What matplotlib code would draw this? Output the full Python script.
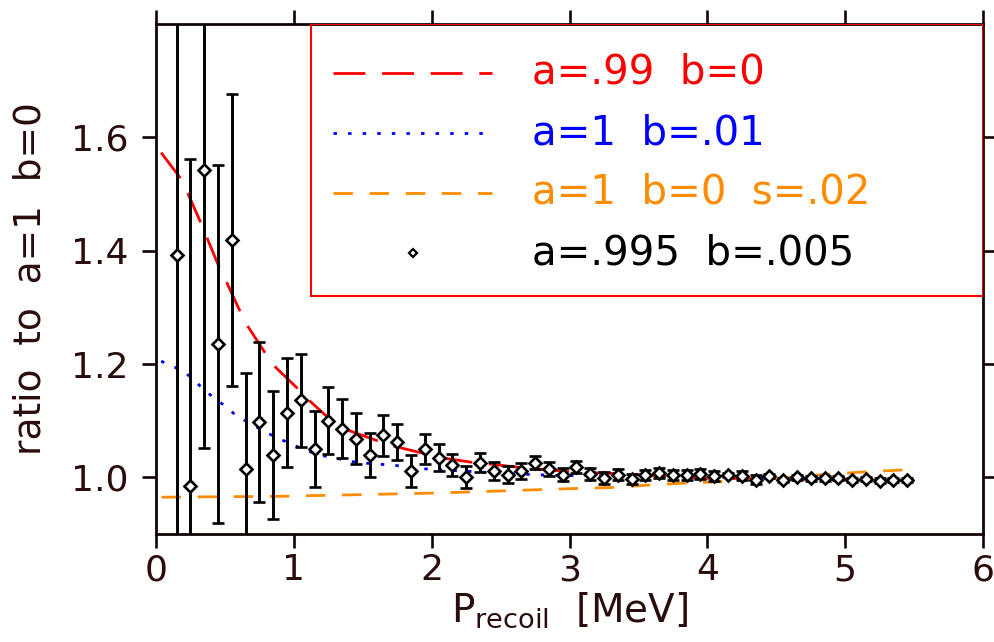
import matplotlib
matplotlib.use("Agg")
import matplotlib.pyplot as plt
from matplotlib.patches import Rectangle
from matplotlib.lines import Line2D

plt.rcParams["lines.scale_dashes"] = False

INK = "#2a0c0c"

# simulated ratio a=.995 b=.005, one point per 0.1 MeV bin
p_recoil = [0.15, 0.25, 0.35, 0.45, 0.55, 0.65, 0.75, 0.85, 0.95, 1.05,
            1.15, 1.25, 1.35, 1.45, 1.55, 1.65, 1.75, 1.85, 1.95, 2.05,
            2.15, 2.25, 2.35, 2.45, 2.55, 2.65, 2.75, 2.85, 2.95, 3.05,
            3.15, 3.25, 3.35, 3.45, 3.55, 3.65, 3.75, 3.85, 3.95, 4.05,
            4.15, 4.25, 4.35, 4.45, 4.55, 4.65, 4.75, 4.85, 4.95, 5.05,
            5.15, 5.25, 5.35, 5.45]
ratio = [1.393, 0.984, 1.542, 1.235, 1.419, 1.015, 1.097, 1.040, 1.114, 1.136,
         1.050, 1.100, 1.086, 1.068, 1.040, 1.074, 1.063, 1.011, 1.050, 1.035,
         1.022, 1.001, 1.026, 1.011, 1.005, 1.011, 1.026, 1.015, 1.005, 1.018,
         1.006, 0.999, 1.005, 0.997, 1.004, 1.008, 1.004, 1.004, 1.006, 1.002,
         1.004, 1.003, 0.996, 1.002, 0.995, 1.000, 0.998, 0.998, 0.999, 0.995,
         0.997, 0.994, 0.995, 0.995]
ratio_err = [0.600, 0.578, 0.490, 0.316, 0.258, 0.169, 0.141, 0.113, 0.096, 0.082,
             0.067, 0.059, 0.052, 0.045, 0.039, 0.036, 0.032, 0.028, 0.026, 0.023,
             0.020, 0.019, 0.017, 0.016, 0.015, 0.014, 0.012, 0.012, 0.011, 0.011,
             0.010, 0.010, 0.0095, 0.0095, 0.009, 0.009, 0.009, 0.0088, 0.0086, 0.0085,
             0.004, 0.008, 0.008, 0.004, 0.004, 0.004, 0.004, 0.004, 0.004, 0.004,
             0.004, 0.004, 0.004, 0.004]

# a=.99 b=0
red_x = [0.037, 0.174, 0.229, 0.324, 0.366, 0.449, 0.511, 0.606, 0.665, 0.785,
         0.860, 1.022, 1.069, 1.25, 1.384, 1.589, 1.71, 1.928, 2.06, 2.279,
         2.40, 2.62, 2.74, 2.95, 3.09, 3.30, 3.49, 3.71, 3.80, 4.03,
         4.26, 4.50, 4.85, 5.06, 5.20, 5.47]
red_y = [1.573, 1.529, 1.502, 1.450, 1.425, 1.376, 1.345, 1.295, 1.267, 1.222,
         1.196, 1.158, 1.145, 1.105, 1.084, 1.066, 1.056, 1.043, 1.035, 1.027,
         1.024, 1.018, 1.015, 1.011, 1.009, 1.007, 1.005, 1.001, 1.000, 0.998,
         0.998, 0.997, 0.996, 0.995, 0.995, 0.995]

# a=1 b=.01
blue_x = [0.037, 0.157, 0.249, 0.329, 0.411, 0.506, 0.586, 0.685, 0.785, 0.885,
          0.99, 1.083, 1.192, 1.301, 1.41, 1.52, 1.63, 1.74, 1.85, 1.95,
          2.157, 2.62, 2.83, 3.05, 3.50, 4.00, 4.50, 5.00, 5.45]
blue_y = [1.205, 1.192, 1.178, 1.159, 1.142, 1.125, 1.108, 1.095, 1.081, 1.069,
          1.058, 1.048, 1.039, 1.034, 1.028, 1.025, 1.023, 1.021, 1.017, 1.015,
          1.012, 1.006, 1.004, 1.003, 1.002, 1.000, 0.998, 0.997, 0.996]

# a=1 b=0 s=.02
orange_x = [0.04, 0.9, 2.06, 3.0, 3.3, 3.55, 3.8, 4.1, 4.33, 4.6, 4.85, 5.1, 5.45]
orange_y = [0.965, 0.9665, 0.9725, 0.980, 0.982, 0.986, 0.9895, 0.9925, 0.995,
            1.000, 1.005, 1.009, 1.0135]

x_ticks = [0, 1, 2, 3, 4, 5, 6]
y_ticks = [1.0, 1.2, 1.4, 1.6]

series = [
    ("a=.99  b=0", "#ff0000", (0, (23, 12))),
    ("a=1  b=.01", "#0000ff", (0, (2.5, 8))),
    ("a=1  b=0  s=.02", "#ff8c00", (0, (14, 12))),
]

fig = plt.figure(figsize=(9.95, 6.42), dpi=100)
ax = fig.add_axes([0.1568, 0.1682, 0.8312, 0.7944])

for (label, color, style), xs, ys in zip(series, [red_x, blue_x, orange_x],
                                        [red_y, blue_y, orange_y]):
    ax.plot(xs, ys, color=color, lw=2.0, linestyle=style)

ax.errorbar(p_recoil, ratio, yerr=ratio_err, fmt="D", color="black",
            ms=6.3, mfc="white", mec="black", mew=1.9,
            elinewidth=2.1, capsize=4.5, capthick=2.1, zorder=5)

ax.set_xlim(0, 6)
ax.set_ylim(0.9, 1.8)
ax.set_xticks(x_ticks)
ax.set_yticks(y_ticks)
ax.set_yticklabels([f"{v:.1f}" for v in y_ticks])

for side in ax.spines.values():
    side.set_linewidth(2.0)
    side.set_color("#120404")
ax.tick_params(which="both", direction="out", length=10, width=1.9,
               color="#120404", top=True, right=True, labelsize=26,
               labelcolor=INK)
ax.tick_params(axis="y", pad=10)
ax.tick_params(axis="x", pad=4)

ax.set_xlabel(r"P$_{\mathregular{recoil}}$  [MeV]", fontsize=28, color=INK,
              labelpad=2)
ax.set_ylabel("ratio  to  a=1  b=0", fontsize=27, color=INK, labelpad=16)

# legend panel in the upper right corner
ax.add_patch(Rectangle((0.1874, 0.4667), 0.8126, 0.5333, transform=ax.transAxes,
                       fill=False, edgecolor="#ff0000", lw=1.5, zorder=6))
rows = [0.904, 0.786, 0.669, 0.551]
for (label, color, style), yr in zip(series, rows):
    ax.add_line(Line2D([0.214, 0.406], [yr, yr], transform=ax.transAxes,
                       color=color, lw=2.0, linestyle=style, zorder=7))
    ax.text(0.455, yr, label, transform=ax.transAxes, color=color,
            fontsize=29, va="center", ha="left", zorder=7)
ax.add_line(Line2D([0.311], [rows[3]], transform=ax.transAxes, marker="D",
                   ms=4.5, mfc="white", mec="black", mew=1.6, zorder=7))
ax.text(0.455, rows[3], "a=.995  b=.005", transform=ax.transAxes,
        color="black", fontsize=29, va="center", ha="left", zorder=7)

fig.savefig("out.png", dpi=100)
